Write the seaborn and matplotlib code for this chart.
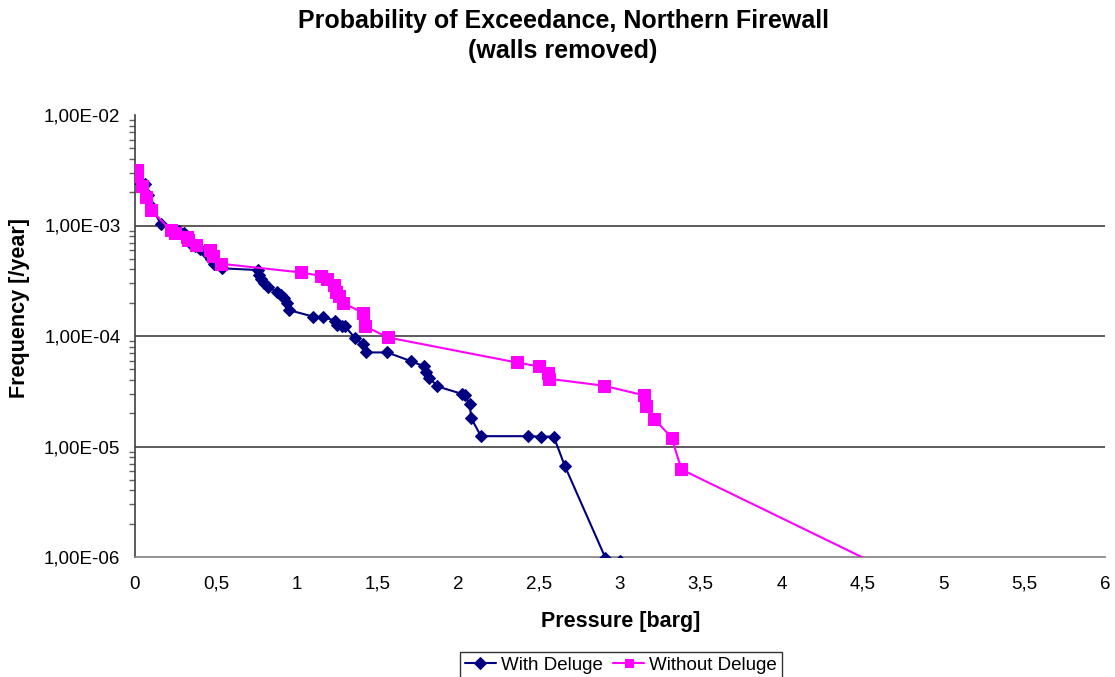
import matplotlib
matplotlib.use("Agg")
import matplotlib.pyplot as plt
import seaborn as sns
import numpy as np
import pandas as pd
from matplotlib.ticker import FixedLocator, LogLocator, NullFormatter

# ---- data ----
with_x = [0.00, 0.02, 0.06, 0.08, 0.10, 0.16, 0.22, 0.27, 0.30, 0.32, 0.34, 0.37, 0.40,
          0.44, 0.47, 0.49, 0.54, 0.76, 0.77, 0.78, 0.80, 0.82, 0.88, 0.90, 0.92, 0.94,
          0.95, 1.10, 1.16, 1.24, 1.25, 1.28, 1.30, 1.36, 1.41, 1.43, 1.56, 1.71, 1.79,
          1.80, 1.82, 1.87, 2.02, 2.04, 2.07, 2.08, 2.14, 2.43, 2.51, 2.59, 2.66, 2.91, 3.00]
with_y = [2.7e-3, 2.6e-3, 2.35e-3, 1.9e-3, 1.5e-3, 1.03e-3, 9.2e-4, 9.0e-4, 8.6e-4, 7.5e-4,
          6.9e-4, 6.5e-4, 6.1e-4, 5.6e-4, 5.0e-4, 4.5e-4, 4.1e-4, 3.95e-4, 3.6e-4, 3.3e-4,
          3.0e-4, 2.8e-4, 2.5e-4, 2.35e-4, 2.2e-4, 2.0e-4, 1.72e-4, 1.5e-4, 1.48e-4, 1.38e-4,
          1.27e-4, 1.22e-4, 1.22e-4, 9.6e-5, 8.4e-5, 7.1e-5, 7.1e-5, 5.9e-5, 5.3e-5, 4.7e-5,
          4.2e-5, 3.5e-5, 3.0e-5, 2.95e-5, 2.4e-5, 1.8e-5, 1.24e-5, 1.24e-5, 1.23e-5, 1.23e-5,
          6.6e-6, 9.8e-7, 9.2e-7]

without_x = [0.01, 0.01, 0.045, 0.07, 0.10, 0.22, 0.25, 0.32, 0.33, 0.38, 0.465, 0.485, 0.535,
             1.026, 1.15, 1.185, 1.23, 1.245, 1.26, 1.285, 1.41, 1.425, 1.565, 2.36, 2.50,
             2.555, 2.56, 2.90, 3.15, 3.16, 3.21, 3.32, 3.38, 4.58]
without_y = [3.2e-3, 2.8e-3, 2.3e-3, 1.8e-3, 1.38e-3, 9.1e-4, 8.5e-4, 7.9e-4, 7.4e-4, 6.6e-4,
             6.0e-4, 5.3e-4, 4.5e-4, 3.76e-4, 3.5e-4, 3.3e-4, 2.9e-4, 2.5e-4, 2.3e-4, 2.0e-4,
             1.62e-4, 1.22e-4, 9.7e-5, 5.76e-5, 5.3e-5, 4.6e-5, 4.1e-5, 3.55e-5, 2.9e-5,
             2.34e-5, 1.79e-5, 1.2e-5, 6.2e-6, 8.7e-7]

x_ticks = [0, 0.5, 1, 1.5, 2, 2.5, 3, 3.5, 4, 4.5, 5, 5.5, 6]
x_tick_labels = ["0", "0,5", "1", "1,5", "2", "2,5", "3", "3,5", "4", "4,5", "5", "5,5", "6"]
y_ticks = [1e-6, 1e-5, 1e-4, 1e-3, 1e-2]
y_tick_labels = ["1,00E-06", "1,00E-05", "1,00E-04", "1,00E-03", "1,00E-02"]
grid_levels = [1e-5, 1e-4, 1e-3]

title_lines = ["Probability of Exceedance, Northern Firewall", "(walls removed)"]
series_names = ["With Deluge", "Without Deluge"]

# ---- plot ----
sns.set_style("white")
plt.rcParams["font.family"] = ["Liberation Sans", "DejaVu Sans"]
plt.rcParams["text.color"] = "black"
plt.rcParams["axes.labelcolor"] = "black"

fig = plt.figure(figsize=(11.15, 6.77), dpi=100)
ax = fig.add_axes([135 / 1115, 1 - 557 / 677, (1105 - 135) / 1115, (557 - 115) / 677])

df_w = pd.DataFrame({"x": with_x, "y": with_y})
df_wo = pd.DataFrame({"x": without_x, "y": without_y})

for lvl in grid_levels:
    ax.axhline(lvl, color="#404040", lw=1.2, zorder=0.5)

sns.lineplot(data=df_w, x="x", y="y", ax=ax, sort=False, estimator=None,
             color="#000080", lw=1.5, marker="D", markersize=6.5, markeredgecolor="#000080",
             label=series_names[0], zorder=3)
sns.lineplot(data=df_wo, x="x", y="y", ax=ax, sort=False, estimator=None,
             color="#FF00FF", lw=1.5, marker="s", markersize=8.5, markeredgecolor="#FF00FF",
             label=series_names[1], zorder=3)

ax.set_yscale("log")
ax.set_xlim(0, 6)
ax.set_ylim(1e-6, 1e-2)

ax.xaxis.set_major_locator(FixedLocator(x_ticks))
ax.set_xticklabels(x_tick_labels)
ax.yaxis.set_major_locator(FixedLocator(y_ticks))
ax.set_yticklabels(y_tick_labels)
ax.yaxis.set_minor_locator(LogLocator(base=10, subs=np.arange(2, 10)))
ax.yaxis.set_minor_formatter(NullFormatter())

ax.tick_params(axis="both", which="major", labelsize=13.5, labelcolor="black",
               direction="out", length=5, width=1, color="#606060")
ax.tick_params(axis="y", which="major", direction="inout", length=7)
ax.tick_params(axis="y", which="minor", direction="out", length=4, width=1,
               color="#606060", left=True)
ax.tick_params(axis="x", pad=18)
ax.tick_params(axis="y", pad=7)
for lbl in ax.get_xticklabels():
    lbl.set_va("baseline")

ax.grid(False)
for s in ["top", "right"]:
    ax.spines[s].set_visible(False)
ax.spines["left"].set_color("#404040")
ax.spines["bottom"].set_color("#808080")
for s in ["left", "bottom"]:
    ax.spines[s].set_linewidth(1.2)

ax.set_xlabel("Pressure [barg]", fontsize=15.5, fontweight="bold")
ax.set_ylabel("Frequency [/year]", fontsize=15.5, fontweight="bold")
ax.xaxis.set_label_coords((621 - 135) / 970, -(621 - 557) / 442)
ax.yaxis.set_label_coords(-(135 - 20) / 970, (557 - 308) / 442)
ax.xaxis.label.set_va("center")
ax.yaxis.label.set_va("center")

fig.text(0.505, 1 - 21 / 677, title_lines[0], fontsize=18, fontweight="bold",
         ha="center", va="center")
fig.text(0.505, 1 - 51 / 677, title_lines[1], fontsize=18, fontweight="bold",
         ha="center", va="center")

leg = fig.legend(*ax.get_legend_handles_labels(), loc="upper center",
                 bbox_to_anchor=(621 / 1115, 1 - 652 / 677), ncol=2, fontsize=13.5,
                 frameon=True, fancybox=False, edgecolor="black", borderpad=0.25,
                 handlelength=1.65, columnspacing=0.55, handletextpad=0.28, borderaxespad=0)
ax.get_legend().remove()
leg.get_frame().set_linewidth(1)
for h in leg.legend_handles:
    h.set_markersize(6)

fig.savefig("out.png", dpi=100, facecolor="white")
